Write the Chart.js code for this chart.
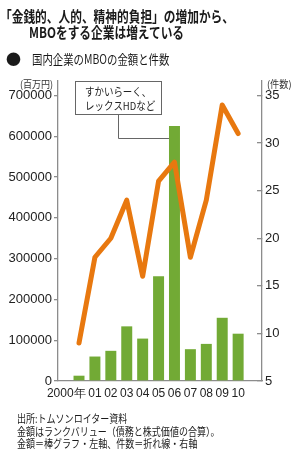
<!DOCTYPE html>
<html><head><meta charset="utf-8">
<script src="https://cdn.jsdelivr.net/npm/chart.js@4.4.1/dist/chart.umd.min.js"></script>
<style>
html,body{margin:0;padding:0;background:#fff;}
#wrap{position:relative;width:300px;height:456px;overflow:hidden;background:#fff;}
canvas{position:absolute;left:0;top:0;}
.t{position:absolute;white-space:nowrap;transform-origin:0 50%;color:#1a1a1a;font-family:'Noto Sans CJK JP',sans-serif;}
</style></head><body>
<div id="wrap">
<canvas id="c" width="300" height="456"></canvas>
<div class="t" style="left:0;top:7px;font-size:15px;line-height:18px;font-weight:bold;transform:scaleX(0.78)">「金銭的、人的、精神的負担」の増加から、</div>
<div class="t" style="left:29px;top:23px;font-size:15px;line-height:18px;font-weight:bold;transform:scaleX(0.78)">MBOをする企業は増えている</div>
<div class="t" style="left:6px;top:50px;font-size:15px;line-height:18px;">●</div>
<div class="t" style="left:32px;top:51px;font-size:13px;line-height:16px;transform:scaleX(0.8)">国内企業のMBOの金額と件数</div>
<div class="t" style="left:17px;top:412px;font-size:11px;line-height:12.7px;transform:scaleX(0.82)">出所:トムソンロイター資料<br>金額はランクバリュー（債務と株式価値の合算）。<br>金額＝棒グラフ・左軸、件数＝折れ線・右軸</div>
</div>
<script>
const years = ["2000年","01","02","03","04","05","06","07","08","09","10"];
const amounts = [13000, 60000, 74000, 134000, 104000, 257000, 625000, 78000, 91000, 155000, 116000];
const counts = [9, 18, 20, 24, 16, 26, 28, 18, 24, 34, 31];
const leftTicks = [0,100000,200000,300000,400000,500000,600000,700000];
const rightTicks = [5,10,15,20,25,30,35];
const xTickPos = [-0.8,1,2,3,4,5,6,7,8,9,10];
const unitLeft = "(百万円)";
const unitRight = "(件数)";
const noteLines = ["すかいらーく、","レックスHDなど"];
const noteIndex = 6;

const NUM = '"Liberation Sans Narrow","Arial Narrow","Liberation Sans",sans-serif';
const AX = '#8c8c8c';
const idx = years.map((_, i) => i);

const deco = {
  id: 'deco',
  afterDraw(chart) {
    const c = chart.ctx;
    c.save();
    c.fillStyle = '#333';
    c.textBaseline = 'middle';
    c.textAlign = 'left';
    c.font = '10px "Noto Sans CJK JP"';
    c.save(); c.translate(20, 84); c.scale(0.9, 1); c.fillText(unitLeft, 0, 0); c.restore();
    c.save(); c.translate(267, 84); c.scale(0.92, 1); c.fillText(unitRight, 0, 0); c.restore();
    c.strokeStyle = '#666';
    c.lineWidth = 1;
    c.strokeRect(75.5, 81.5, 86, 33);
    const bar = chart.getDatasetMeta(1).data[noteIndex];
    const bx = bar.x - bar.width / 2;
    c.beginPath();
    c.moveTo(118.5, 114.5);
    c.lineTo(118.5, 138.5);
    c.lineTo(bx, 138.5);
    c.stroke();
    c.fillStyle = '#222';
    c.font = '11px "Noto Sans CJK JP"';
    c.save(); c.translate(85, 92); c.scale(0.86, 1); c.fillText(noteLines[0], 0, 0); c.restore();
    c.save(); c.translate(85, 106); c.scale(0.86, 1); c.fillText(noteLines[1], 0, 0); c.restore();
    c.restore();
  }
};

new Chart(document.getElementById('c'), {
  type: 'bar',
  data: {
    datasets: [
      {
        type: 'line',
        data: idx.map(i => ({x: i, y: counts[i]})),
        yAxisID: 'yR',
        borderColor: '#e8780f',
        borderWidth: 5,
        pointRadius: 0,
        tension: 0,
        borderJoinStyle: 'round',
        borderCapStyle: 'round',
        order: 0
      },
      {
        type: 'bar',
        data: idx.map(i => ({x: i, y: amounts[i]})),
        yAxisID: 'yL',
        backgroundColor: '#72aa35',
        barPercentage: 0.69,
        categoryPercentage: 1,
        order: 1
      }
    ]
  },
  options: {
    responsive: false,
    animation: false,
    devicePixelRatio: 1,
    layout: {padding: {top: 81, bottom: 51, left: 0, right: 0}},
    plugins: {legend: {display: false}, tooltip: {enabled: false}},
    scales: {
      x: {
        type: 'linear', min: -1.32, max: 11.5, offset: false,
        grid: {display: false, drawTicks: false, offset: false},
        border: {color: AX, width: 1.3},
        afterBuildTicks: s => { s.ticks = xTickPos.map(v => ({value: v})); },
        afterFit: s => { s.height = 24; },
        ticks: {
          autoSkip: false, maxRotation: 0, padding: 5, color: '#222',
          font: {family: NUM, size: 12},
          callback: (v, i) => years[i]
        }
      },
      yL: {
        type: 'linear', position: 'left', min: 0, max: 735600,
        afterBuildTicks: s => { s.ticks = leftTicks.map(v => ({value: v})); },
        afterFit: s => { s.width = 58; },
        grid: {drawOnChartArea: false, drawTicks: true, tickLength: 4, color: AX, lineWidth: 1.3},
        border: {color: AX, width: 1.3},
        ticks: {padding: 2, color: '#222', font: {family: NUM, size: 13}, callback: v => String(v)}
      },
      yR: {
        type: 'linear', position: 'right', min: 5, max: 36.52,
        afterBuildTicks: s => { s.ticks = rightTicks.map(v => ({value: v})); },
        afterFit: s => { s.width = 38; },
        grid: {drawOnChartArea: false, drawTicks: true, tickLength: -5, color: AX, lineWidth: 1.3},
        border: {color: AX, width: 1.3},
        ticks: {padding: 8, color: '#222', font: {family: NUM, size: 13}, callback: v => String(v)}
      }
    }
  },
  plugins: [deco]
});
</script>
</body></html>
